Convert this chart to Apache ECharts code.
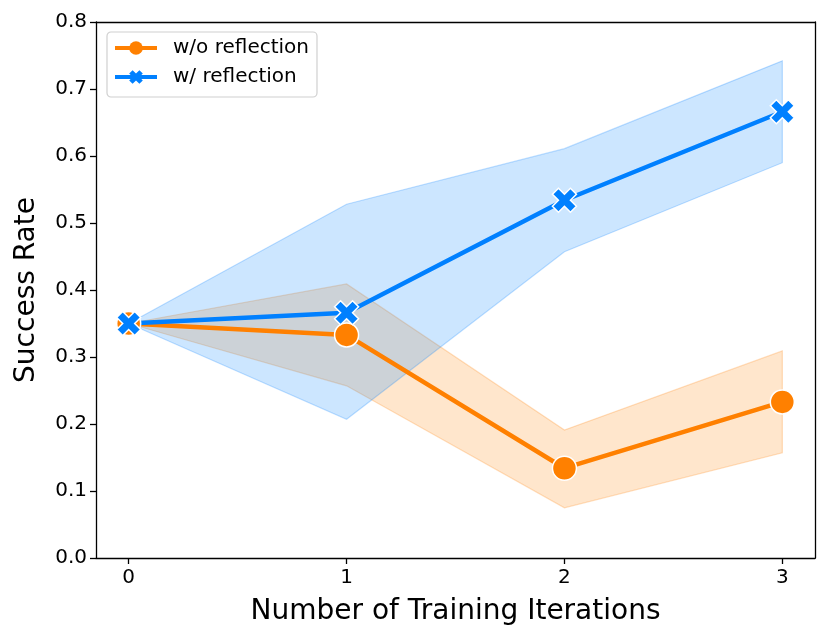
<!DOCTYPE html>
<html>
<head>
<meta charset="utf-8">
<script src="https://cdn.jsdelivr.net/npm/echarts@6/dist/echarts.min.js"></script>
<style>
  html, body { margin: 0; padding: 0; background: #fff; }
  #chart { width: 830px; height: 642px; }
</style>
</head>
<body>
<div id="chart"></div>
<script>
// training iterations on x
var iterations = [0, 1, 2, 3];
var tickX = [0, 1, 2, 3];

// w/o reflection: mean and band
var woMean = [0.35, 0.333, 0.134, 0.233];
var woLow  = [0.35, 0.257, 0.075, 0.157];
var woHigh = [0.35, 0.409, 0.191, 0.309];

// w/ reflection: mean and band
var wMean = [0.35, 0.366, 0.534, 0.666];
var wLow  = [0.35, 0.207, 0.457, 0.590];
var wHigh = [0.35, 0.528, 0.611, 0.742];

var ORANGE = '#ff8000';
var BLUE = '#0080ff';
var FONT = 'DejaVu Sans';
var XSHAPE = 'path://M1 0L2 1L3 0L4 1L3 2L4 3L3 4L2 3L1 4L0 3L1 2L0 1Z';

function pairs(xs, ys) {
  return xs.map(function (x, i) { return [x, ys[i]]; });
}

// band polygon through the axes
function bandSeries(low, high, fill, edge) {
  return {
    type: 'custom',
    silent: true,
    data: [[0, 0]],
    renderItem: function (params, api) {
      var pts = [];
      for (var i = 0; i < iterations.length; i++) pts.push(api.coord([iterations[i], high[i]]));
      for (var j = iterations.length - 1; j >= 0; j--) pts.push(api.coord([iterations[j], low[j]]));
      return {
        type: 'polygon',
        shape: { points: pts },
        style: { fill: fill, stroke: edge, lineWidth: 1.2 }
      };
    }
  };
}

function lineSeries(name, ys, color, symbol) {
  return {
    name: name,
    type: 'line',
    data: pairs(iterations, ys),
    symbol: symbol,
    symbolSize: 24,
    lineStyle: { color: color, width: 4.5 },
    itemStyle: { color: color, borderColor: '#fff', borderWidth: 1.5 },
    emphasis: { disabled: true }
  };
}

var chart = echarts.init(document.getElementById('chart'));
chart.setOption({
  animation: false,
  textStyle: { fontFamily: FONT },
  grid: { left: 96, right: 15, top: 22, bottom: 84 },
  legend: {
    data: ['w/o reflection', 'w/ reflection'],
    orient: 'vertical',
    left: 107, top: 32,
    padding: [6, 8, 10, 6],
    itemWidth: 42, itemHeight: 17, itemGap: 9,
    lineStyle: { width: 4 },
    itemStyle: { borderWidth: 0 },
    backgroundColor: '#fff',
    borderColor: '#d0d0d0', borderWidth: 1.2, borderRadius: 4,
    textStyle: { fontFamily: FONT, fontSize: 20, color: '#000', padding: [0, 0, 0, 11] }
  },
  xAxis: [{
    type: 'value',
    min: -0.15, max: 3.15,
    name: 'Number of Training Iterations',
    nameLocation: 'middle', nameGap: 40,
    nameTextStyle: { fontFamily: FONT, fontSize: 28, color: '#000' },
    axisLine: { show: true, onZero: false, lineStyle: { color: '#000', width: 1.3 } },
    axisTick: { show: true, customValues: tickX, length: 6, lineStyle: { color: '#000', width: 1.3 } },
    axisLabel: { customValues: tickX, fontSize: 20, color: '#000', margin: 10 },
    splitLine: { show: false }
  }, {
    type: 'value', position: 'top',
    min: -0.15, max: 3.15,
    axisLine: { show: true, onZero: false, lineStyle: { color: '#000', width: 1.3 } },
    axisTick: { show: false }, axisLabel: { show: false }, splitLine: { show: false }
  }],
  yAxis: [{
    type: 'value',
    min: 0, max: 0.8, interval: 0.1,
    name: 'Success Rate',
    nameLocation: 'middle', nameGap: 55,
    nameTextStyle: { fontFamily: FONT, fontSize: 28, color: '#000' },
    axisLine: { show: true, onZero: false, lineStyle: { color: '#000', width: 1.3 } },
    axisTick: { show: true, length: 6, lineStyle: { color: '#000', width: 1.3 } },
    axisLabel: {
      fontSize: 20, color: '#000', margin: 9,
      formatter: function (v) { return v.toFixed(1); }
    },
    splitLine: { show: false }
  }, {
    type: 'value', position: 'right',
    min: 0, max: 0.8,
    axisLine: { show: true, onZero: false, lineStyle: { color: '#000', width: 1.3 } },
    axisTick: { show: false }, axisLabel: { show: false }, splitLine: { show: false }
  }],
  series: [
    bandSeries(woLow, woHigh, 'rgba(255,128,0,0.2)', 'rgba(255,128,0,0.25)'),
    lineSeries('w/o reflection', woMean, ORANGE, 'circle'),
    bandSeries(wLow, wHigh, 'rgba(0,128,255,0.2)', 'rgba(0,128,255,0.25)'),
    lineSeries('w/ reflection', wMean, BLUE, XSHAPE)
  ]
});
</script>
</body>
</html>
